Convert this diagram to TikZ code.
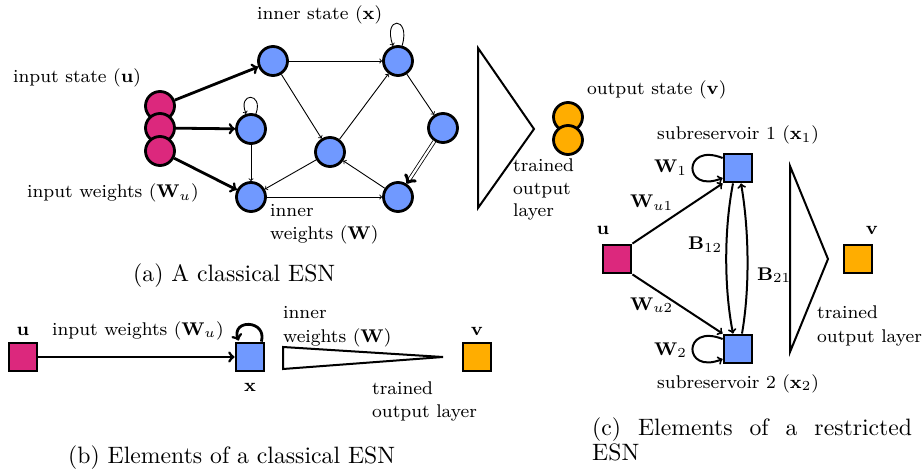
\RequirePackage{fix-cm}
\documentclass[tikz,border=0pt]{standalone}
\usepackage{graphicx}
\usetikzlibrary{calc}
\definecolor{pk}{RGB}{220,40,125}
\definecolor{bl}{RGB}{112,153,255}
\definecolor{og}{RGB}{255,173,0}
\newcommand{\Lb}[1]{\scalebox{2.3}{\fontsize{8}{9.5}\selectfont #1}}
\newcommand{\Cp}[1]{\scalebox{2.37}{\fontsize{10}{12}\selectfont #1}}
\tikzset{
 lbl/.style={inner sep=0pt},
 cnode/.style={circle, draw, line width=2.8pt, minimum size=29pt, inner sep=0pt},
 sq/.style={draw, line width=2.8pt, minimum size=28pt, inner sep=0pt},
 thinarr/.style={->, line width=0.9pt},
 thickarr/.style={->, line width=2.8pt},
 midarr/.style={->, line width=2pt},
 tri/.style={draw, line width=2pt, line join=miter},
}
\begin{document}
\begin{tikzpicture}[x=1pt,y=-1pt]
\useasboundingbox (0,0) rectangle (924,473);
% ---------------- (a)
\node[cnode, fill=pk] (p1) at (160,106) {};
\node[cnode, fill=pk] (p2) at (160,128) {};
\node[cnode, fill=pk] (p3) at (160,151) {};
\node[cnode, fill=bl] (n1) at (273,61) {};
\node[cnode, fill=bl] (n2) at (251,129) {};
\node[cnode, fill=bl] (n3) at (251,197) {};
\node[cnode, fill=bl] (n4) at (330,152) {};
\node[cnode, fill=bl] (n5) at (398,61) {};
\node[cnode, fill=bl] (n6) at (443,128) {};
\node[cnode, fill=bl] (n7) at (398,197) {};
\draw[thickarr] (p1) -- (n1);
\draw[thickarr] (p2) -- (n2);
\draw[thickarr] (p3) -- (n3);
\draw[thinarr] (n1) -- (n5);
\draw[thinarr] (n1) -- (n4);
\draw[thinarr] (n4) -- (n5);
\draw[thinarr] (n5) -- (n6);
\draw[thinarr, double, double distance=2.2pt, line width=0.8pt] (n6) -- (n7);
\draw[thinarr] (n7) -- (n4);
\draw[thinarr] (n4) -- (n3);
\draw[thinarr] (n3) -- (n7);
\draw[thinarr] (n2) -- (n3);
\draw[thinarr] (n5.75) .. controls +(9,-30) and +(-11,-30) .. (n5.108);
\draw[thinarr] (n2.72) .. controls +(8,-22) and +(-9,-22) .. (n2.108);
\draw[tri] (478,48) -- (534,129) -- (478,208) -- cycle;
\node[cnode, fill=og] (o1) at (568,117) {};
\node[cnode, fill=og] (o2) at (568,140) {};
\node[lbl, anchor=base west] (t1) at (257,20) {\Lb{inner state ($\mathbf{x}$)}};
\node[lbl, anchor=base west] (t2) at (13,83) {\Lb{input state ($\mathbf{u}$)}};
\node[lbl, anchor=base west] (t3) at (27,198) {\Lb{input weights ($\mathbf{W}_u$)}};
\node[lbl, anchor=base west] (t4) at (270,217) {\Lb{inner}};
\node[lbl, anchor=base west] (t5) at (270,240) {\Lb{weights ($\mathbf{W}$)}};
\node[lbl, anchor=base west] (t6) at (513,172) {\Lb{trained}};
\node[lbl, anchor=base west] (t7) at (513,195) {\Lb{output}};
\node[lbl, anchor=base west] (t8) at (513,217) {\Lb{layer}};
\node[lbl, anchor=base west] (t9) at (587,95) {\Lb{output state ($\mathbf{v}$)}};
\node[lbl, anchor=base west] (ca) at (133,282) {\Cp{(a) A classical ESN}};
% ---------------- (b)
\node[sq, fill=pk] (bu) at (23,357) {};
\node[sq, fill=bl] (bx) at (250,357) {};
\node[sq, fill=og] (bv) at (477,357) {};
\draw[thickarr] (bu) -- (bx);
\draw[thickarr] ($(bx.north east)+(-4,0)$) .. controls +(6,-22) and +(-8,-22) .. ($(bx.north west)+(4,-1)$);
\draw[tri] (283,347) -- (443,357) -- (283,369) -- cycle;
\node[lbl, anchor=base] (bl1) at (23,335) {\Lb{$\mathbf{u}$}};
\node[lbl, anchor=base west] (bl2) at (52,335) {\Lb{input weights ($\mathbf{W}_u$)}};
\node[lbl, anchor=base] (bl3) at (250,391) {\Lb{$\mathbf{x}$}};
\node[lbl, anchor=base west] (bl4) at (283,318) {\Lb{inner}};
\node[lbl, anchor=base west] (bl5) at (283,342) {\Lb{weights ($\mathbf{W}$)}};
\node[lbl, anchor=base west] (bl6) at (372,394) {\Lb{trained}};
\node[lbl, anchor=base west] (bl7) at (372,417) {\Lb{output layer}};
\node[lbl, anchor=base] (bl8) at (477,335) {\Lb{$\mathbf{v}$}};
\node[lbl, anchor=base west] (cb) at (68,463) {\Cp{(b) Elements of a classical ESN}};
% ---------------- (c)
\node[sq, fill=pk] (cu) at (617,259) {};
\node[sq, fill=bl] (cx1) at (738,168) {};
\node[sq, fill=bl] (cx2) at (738,349) {};
\node[sq, fill=og] (cv) at (858,259) {};
\draw[midarr] (cu.north east) -- (cx1.south west);
\draw[midarr] (cu.south east) -- (cx2.north west);
\draw[midarr] ($(cx1.west)+(0,-10)$) .. controls +(-40,-16) and +(-40,16) .. ($(cx1.west)+(0,10)$);
\draw[midarr] ($(cx2.west)+(0,-10)$) .. controls +(-40,-16) and +(-40,16) .. ($(cx2.west)+(0,10)$);
\draw[midarr] ($(cx1.south)+(-5,0)$) .. controls +(-9,46) and +(-9,-46) .. ($(cx2.north)+(-5,0)$);
\draw[midarr] ($(cx2.north)+(4,0)$) .. controls +(8,-46) and +(8,46) .. ($(cx1.south)+(3,0)$);
\draw[tri] (790,166) -- (828,259) -- (790,352) -- cycle;
\node[lbl, anchor=base] (cl1) at (603,235) {\Lb{$\mathbf{u}$}};
\node[lbl, anchor=base] (cl2) at (872,235) {\Lb{$\mathbf{v}$}};
\node[lbl, anchor=base west] (cl3) at (657,140) {\Lb{subreservoir 1 ($\mathbf{x}_1$)}};
\node[lbl, anchor=base west] (cl4) at (657,388) {\Lb{subreservoir 2 ($\mathbf{x}_2$)}};
\node[lbl, anchor=base west] (cl5) at (654,173) {\Lb{$\mathbf{W}_1$}};
\node[lbl, anchor=base west] (cl6) at (654,355) {\Lb{$\mathbf{W}_2$}};
\node[lbl, anchor=base west] (cl7) at (630,208) {\Lb{$\mathbf{W}_{u1}$}};
\node[lbl, anchor=base west] (cl8) at (630,310) {\Lb{$\mathbf{W}_{u2}$}};
\node[lbl, anchor=base west] (cl9) at (688,250) {\Lb{$\mathbf{B}_{12}$}};
\node[lbl, anchor=base west] (cl10) at (757,280) {\Lb{$\mathbf{B}_{21}$}};
\node[lbl, anchor=base west] (cl11) at (817,318) {\Lb{trained}};
\node[lbl, anchor=base west] (cl12) at (817,342) {\Lb{output layer}};
\node[lbl, anchor=base west] (cc1) at (592,435) {\Cp{\makebox[135pt][s]{(c) Elements of a restricted}}};
\node[lbl, anchor=base west] (cc2) at (592,460) {\Cp{ESN}};
\end{tikzpicture}
\end{document}
